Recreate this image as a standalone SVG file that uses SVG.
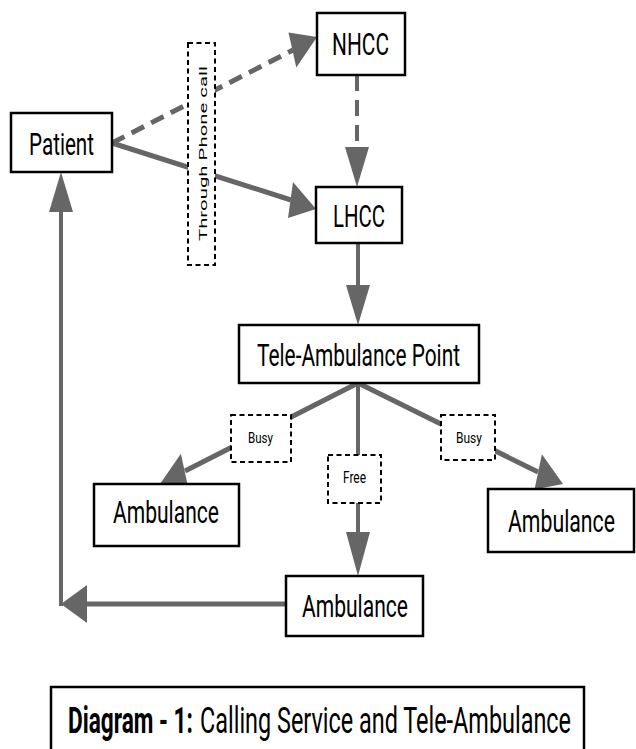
<svg xmlns="http://www.w3.org/2000/svg" width="636" height="749" viewBox="0 0 636 749">
<style>
.box{fill:#fff;stroke:#000;stroke-width:2.5}
.lbl{fill:#fff;stroke:#000;stroke-width:2;stroke-dasharray:5,3.5}
.ln{fill:none;stroke:#666;stroke-width:5}
.thin{stroke-width:4}
.dash{stroke-dasharray:14,8}
.head{fill:#666;stroke:none}
text{font-family:Roboto,"Liberation Sans",Arial,sans-serif;fill:#000}
.t{font-size:31px}
.s{font-size:15px}
</style>
<rect width="636" height="749" fill="#fff"/>
<g id="connectors">
  <line class="ln dash" x1="112" y1="143" x2="293" y2="50"/>
  <polygon class="head" points="317,37 296.3,67.4 288.5,32.4"/>
  <line class="ln" x1="112" y1="143" x2="291" y2="200"/>
  <polygon class="head" points="316,209 288,218 293,182"/>
  <line class="ln thin" x1="357" y1="75" x2="357" y2="148" style="stroke-dasharray:16,9"/>
  <polygon class="head" points="357,187 345,147 369,147"/>
  <line class="ln thin" x1="358" y1="243" x2="358" y2="286"/>
  <polygon class="head" points="358,325 346,285 370,285"/>
  <line class="ln" x1="358" y1="383" x2="185" y2="471"/>
  <polygon class="head" points="160,484 188.5,489 180.9,453.8"/>
  <line class="ln" x1="358" y1="383" x2="538" y2="472"/>
  <polygon class="head" points="563,484 534.5,489.4 541.9,454.2"/>
  <line class="ln thin" x1="358" y1="383" x2="358" y2="534"/>
  <polygon class="head" points="358,576 346,532 370,532"/>
  <line class="ln" x1="286" y1="604" x2="86" y2="604"/>
  <polygon class="head" points="61,604 87,585 87,623"/>
  <line class="ln thin" x1="61" y1="606" x2="61" y2="211"/>
  <polygon class="head" points="61,172 49,212 73,212"/>
</g>
<g id="label-phone">
  <rect class="lbl" x="188" y="43" width="27" height="222"/>
  <text transform="translate(207,241) scale(0.65,1) rotate(-90)" font-size="18" textLength="175" lengthAdjust="spacingAndGlyphs">Through Phone call</text>
</g>
<g id="label-busy-left">
  <rect class="lbl" x="231" y="415" width="60" height="47"/>
  <text class="s" x="248" y="443" textLength="25" lengthAdjust="spacingAndGlyphs">Busy</text>
</g>
<g id="label-busy-right">
  <rect class="lbl" x="441" y="415" width="54" height="45"/>
  <text class="s" x="456" y="443" textLength="26" lengthAdjust="spacingAndGlyphs">Busy</text>
</g>
<g id="label-free">
  <rect class="lbl" x="328" y="455" width="53" height="48"/>
  <text x="343" y="483" font-size="16" textLength="23" lengthAdjust="spacingAndGlyphs">Free</text>
</g>
<g id="patient">
  <rect class="box" x="11" y="113" width="101" height="59"/>
  <text class="t" x="29" y="155" font-size="32" textLength="65" lengthAdjust="spacingAndGlyphs">Patient</text>
</g>
<g id="nhcc">
  <rect class="box" x="317" y="13" width="88" height="62"/>
  <text class="t" x="332" y="55" textLength="57" lengthAdjust="spacingAndGlyphs">NHCC</text>
</g>
<g id="lhcc">
  <rect class="box" x="316" y="187" width="86" height="56"/>
  <text class="t" x="333" y="227" textLength="52" lengthAdjust="spacingAndGlyphs">LHCC</text>
</g>
<g id="tele-point">
  <rect class="box" x="239" y="325" width="240" height="58"/>
  <text class="t" x="257" y="366" font-size="32" textLength="203" lengthAdjust="spacingAndGlyphs">Tele-Ambulance Point</text>
</g>
<g id="ambulance-left">
  <rect class="box" x="94" y="484" width="145" height="62"/>
  <text class="t" x="113" y="523" textLength="106" lengthAdjust="spacingAndGlyphs">Ambulance</text>
</g>
<g id="ambulance-right">
  <rect class="box" x="488" y="489" width="146" height="63"/>
  <text class="t" x="508" y="532" textLength="107" lengthAdjust="spacingAndGlyphs">Ambulance</text>
</g>
<g id="ambulance-bottom">
  <rect class="box" x="286" y="576" width="137" height="60"/>
  <text class="t" x="302" y="617" textLength="106" lengthAdjust="spacingAndGlyphs">Ambulance</text>
</g>
<g id="caption">
  <rect class="box" x="51" y="687" width="533" height="70"/>
  <text x="68" y="733" font-size="36" font-weight="bold" textLength="125" lengthAdjust="spacingAndGlyphs">Diagram - 1:</text>
  <text x="200" y="733" font-size="36" textLength="371" lengthAdjust="spacingAndGlyphs">Calling Service and Tele-Ambulance</text>
</g>
</svg>
